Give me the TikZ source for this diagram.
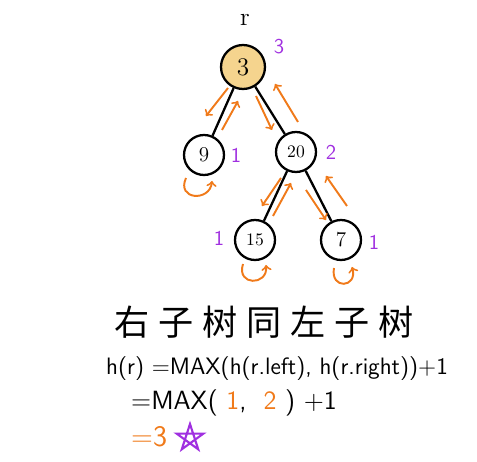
\documentclass[tikz,border=0pt]{standalone}
\usepackage{fontspec}
\usepackage{xcolor}
\usepackage{tikz}
\newfontfamily\cjk{Noto Sans CJK SC}
\definecolor{walkorange}{HTML}{F07A1A}
\definecolor{hgtpurple}{HTML}{A030E0}
\definecolor{rootfill}{HTML}{F5D48E}
\tikzset{
  tnode/.style={circle,draw,line width=1.3pt,minimum size=0.8cm,inner sep=0pt,font=\large},
  walk/.style={->,draw=walkorange,line width=1.1pt},
  hlabel/.style={text=hgtpurple,font=\large\sffamily},
}
\begin{document}
\begin{tikzpicture}[x=0.02cm,y=-0.02cm]
\useasboundingbox (0,0) rectangle (477,462);
  \node (rlab) at (245,20) {\Large r};
  \node[tnode,fill=rootfill,minimum size=0.88cm,font=\Large] (root) at (243,67) {3};
  \node[hlabel] (hroot) at (279,47) {3};
  \node[tnode] (n9) at (204,155) {9};
  \node[hlabel] (h9) at (236,155) {1};
  \node[tnode] (n20) at (296,152) {\normalsize 20};
  \node[hlabel] (h20) at (331,152) {2};
  \node[tnode] (n15) at (255,240) {\normalsize 15};
  \node[hlabel] (h15) at (219,238) {1};
  \node[tnode] (n7) at (341,240) {7};
  \node[hlabel] (h7) at (374,242) {1};
  \draw[line width=1.3pt] (root)--(n9);
  \draw[line width=1.3pt] (root)--(n20);
  \draw[line width=1.3pt] (n20)--(n15);
  \draw[line width=1.3pt] (n20)--(n7);
  % going down and coming back up
  \draw[walk] (228,88)--(206,116);
  \draw[walk] (222,130)--(238,101);
  \draw[walk] (256,96)--(272,130);
  \draw[walk] (298,122)--(275,84);
  \draw[walk] (281,178)--(262,206);
  \draw[walk] (273,216)--(291,183);
  \draw[walk] (306,190)--(326,220);
  \draw[walk] (347,206)--(326,176);
  % leaves return at once
  \draw[walk] (186,178) .. controls (176,200) and (210,202) .. (212,181);
  \draw[walk] (243,264) .. controls (236,286) and (268,286) .. (266,265);
  \draw[walk] (334,268) .. controls (330,290) and (358,288) .. (352,267);
  \node (title) at (264,322) {\fontsize{20}{24}\cjk 右\hspace{0.18cm}子\hspace{0.18cm}树\hspace{0.18cm}同\hspace{0.18cm}左\hspace{0.18cm}子\hspace{0.18cm}树};
  \node[anchor=west] (line1) at (100,369) {\fontsize{13.5}{16}\sffamily h(r) =MAX(h(r.left), h(r.right))+1};
  \node[anchor=west] (line2) at (125,403) {\fontsize{15}{18}\sffamily =MAX( \textcolor{walkorange}{1},\ \ \textcolor{walkorange}{2} )\ +1};
  \node[anchor=west,text=walkorange] (line3) at (125,437) {\fontsize{17}{18}\sffamily =3};
  \draw[hgtpurple,line width=1.2pt] (190,438) +(270:14) -- +(54:14) -- +(198:14) -- +(342:14) -- +(126:14) -- cycle;
\end{tikzpicture}
\end{document}
